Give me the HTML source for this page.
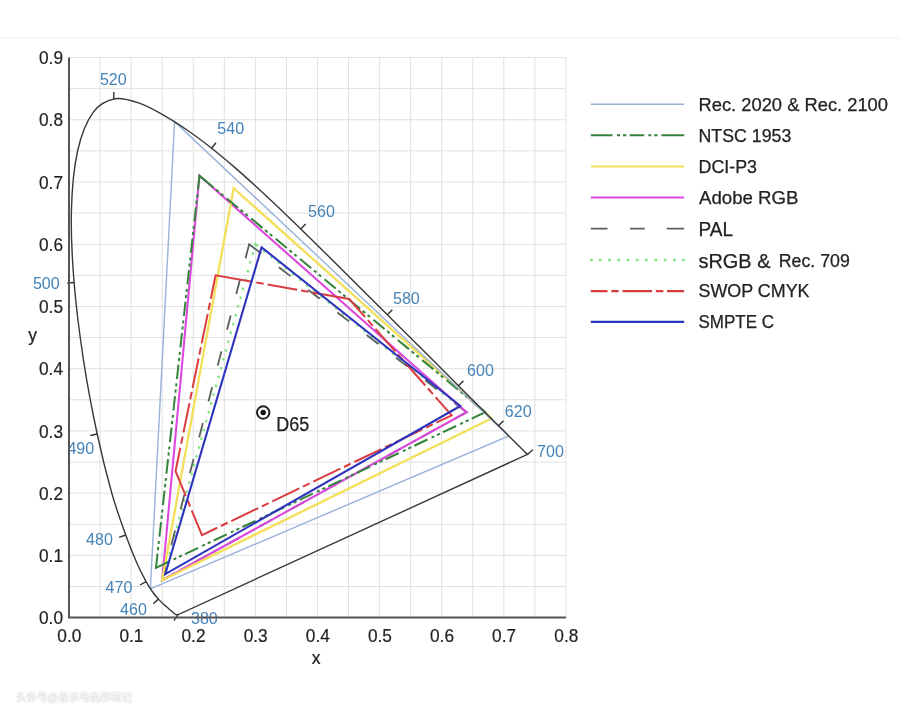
<!DOCTYPE html>
<html lang="en"><head><meta charset="utf-8"><title>CIE 1931 xy gamut comparison</title>
<style>
html,body{margin:0;padding:0;background:#fff;}
body{width:901px;height:720px;overflow:hidden;position:relative;font-family:"Liberation Sans","Noto Sans CJK SC",sans-serif;}
svg{position:absolute;left:0;top:0;display:block;}
svg text{font-family:"Liberation Sans",sans-serif;}
.ax{font-size:18.5px;fill:#222;stroke:#222;stroke-width:0.2px;}
.axl{font-size:17.5px;fill:#222;stroke:#222;stroke-width:0.2px;}
.wl{font-size:16.5px;fill:#4583b8;}
.d65{font-size:19.5px;fill:#222;stroke:#222;stroke-width:0.25px;}
.lg{font-size:18px;fill:#222;stroke:#222;stroke-width:0.25px;}
.lgb{font-size:20.5px;fill:#222;stroke:#222;stroke-width:0.25px;}
.topline{position:absolute;left:0;top:37px;width:901px;height:2px;background:#f7f7f7;}
.wm{position:absolute;left:16px;top:689px;font-size:10.5px;line-height:16px;color:#fff;text-shadow:0 0 2px #bbb,0 0 1px #ccc;white-space:nowrap;letter-spacing:0;}
</style></head><body>
<div class="topline"></div>
<svg width="901" height="720" viewBox="0 0 901 720">
<path d="M69.00 57.53 V617.60 M100.06 57.53 V617.60 M131.12 57.53 V617.60 M162.18 57.53 V617.60 M193.24 57.53 V617.60 M224.30 57.53 V617.60 M255.36 57.53 V617.60 M286.42 57.53 V617.60 M317.48 57.53 V617.60 M348.54 57.53 V617.60 M379.60 57.53 V617.60 M410.66 57.53 V617.60 M441.72 57.53 V617.60 M472.78 57.53 V617.60 M503.84 57.53 V617.60 M534.90 57.53 V617.60 M565.96 57.53 V617.60 M69.00 617.60 H565.96 M69.00 586.49 H565.96 M69.00 555.37 H565.96 M69.00 524.25 H565.96 M69.00 493.14 H565.96 M69.00 462.03 H565.96 M69.00 430.91 H565.96 M69.00 399.80 H565.96 M69.00 368.68 H565.96 M69.00 337.57 H565.96 M69.00 306.45 H565.96 M69.00 275.34 H565.96 M69.00 244.22 H565.96 M69.00 213.11 H565.96 M69.00 181.99 H565.96 M69.00 150.88 H565.96 M69.00 119.76 H565.96 M69.00 88.64 H565.96 M69.00 57.53 H565.96" stroke="#e0e0e0" stroke-width="1" fill="none"/>
<path d="M255.36 244.22 L162.18 580.26 L466.57 412.24 Z" stroke="#84e484" stroke-width="2.3" fill="none" stroke-linejoin="miter" stroke-dasharray="1.76 6.65 2.50 6.65 2.50 6.65 2.50 6.65 2.50 6.65 2.50 6.65 2.50 6.65 2.50 6.65 2.50 6.65 2.50 6.65 2.50 6.65 2.50 6.65 2.50 6.65 2.50 6.65 2.50 6.65 2.50 6.65 2.50 6.65 2.50 6.65 2.50 6.65 2.50 6.65 2.50 6.65 2.50 6.65 2.50 6.65 2.50 6.65 2.50 6.65 2.50 6.65 2.50 6.65 2.50 6.65 2.50 6.65 2.50 6.65 2.50 6.65 2.50 6.65 2.50 6.65 2.50 6.65 2.50 6.65 2.50 6.65 2.50 6.65 2.50 6.65 7.58 6.65 2.50 6.65 2.50 6.65 2.50 6.65 2.50 6.65 2.50 6.65 2.50 6.65 2.50 6.65 2.50 6.65 2.50 6.65 2.50 6.65 2.50 6.65 2.50 6.65 2.50 6.65 2.50 6.65 2.50 6.65 2.50 6.65 2.50 6.65 2.50 6.65 2.50 6.65 2.50 6.65 2.50 6.65 2.50 6.65 2.50 6.65 2.50 6.65 2.50 6.65 2.50 6.65 2.50 6.65 2.50 6.65 2.50 6.65 2.50 6.65 2.50 6.65 2.50 6.65 2.50 6.65 2.50 6.65 2.50 6.65 2.50 6.65 9.34 6.65 2.50 6.65 2.50 6.65 2.50 6.65 2.50 6.65 2.50 6.65 2.50 6.65 2.50 6.65 2.50 6.65 2.50 6.65 2.50 6.65 2.50 6.65 2.50 6.65 2.50 6.65 2.50 6.65 2.50 6.65 2.50 6.65 2.50 6.65 2.50 6.65 2.50 6.65 2.50 6.65 2.50 6.65 2.50 6.65 2.50 6.65 2.50 6.65 2.50 6.65 2.50 6.65 2.50 6.65 2.50 6.65 3.52"/>
<path d="M249.15 244.22 L162.18 580.26 L466.57 412.24 Z" stroke="#58605a" stroke-width="1.8" fill="none" stroke-linejoin="miter" stroke-dasharray="14.41 22.30 14.70 22.30 14.70 22.30 14.70 22.30 14.70 22.30 14.70 22.30 14.70 22.30 14.70 22.30 14.70 22.30 29.10 22.30 14.70 22.30 14.70 22.30 14.70 22.30 14.70 22.30 14.70 22.30 14.70 22.30 14.70 22.30 14.70 22.30 29.93 22.30 14.70 22.30 14.70 22.30 14.70 22.30 14.70 22.30 14.70 22.30 14.70 22.30 15.24"/>
<path d="M466.57 412.24 L199.45 175.77 L162.18 580.26 Z" stroke="#dc48de" stroke-width="2.1" fill="none" stroke-linejoin="miter"/>
<path d="M491.42 418.46 L233.62 188.21 L162.18 580.26 Z" stroke="#f3df58" stroke-width="2.3" fill="none" stroke-linejoin="miter"/>
<path d="M199.45 175.77 L155.97 567.82 L485.20 412.24 Z" stroke="#34843a" stroke-width="2.0" fill="none" stroke-linejoin="miter" stroke-dasharray="14.28 4.50 3.00 3.00 3.30 3.40 14.50 4.50 3.00 3.00 3.30 3.40 14.50 4.50 3.00 3.00 3.30 3.40 14.50 4.50 3.00 3.00 3.30 3.40 14.50 4.50 3.00 3.00 3.30 3.40 14.50 4.50 3.00 3.00 3.30 3.40 14.50 4.50 3.00 3.00 3.30 3.40 14.50 4.50 3.00 3.00 3.30 3.40 14.50 4.50 3.00 3.00 3.30 3.40 14.50 4.50 3.00 3.00 3.30 3.40 14.50 4.50 3.00 3.00 3.30 3.40 14.50 4.50 3.00 3.00 3.30 3.40 29.25 4.50 3.00 3.00 3.30 3.40 14.50 4.50 3.00 3.00 3.30 3.40 14.50 4.50 3.00 3.00 3.30 3.40 14.50 4.50 3.00 3.00 3.30 3.40 14.50 4.50 3.00 3.00 3.30 3.40 14.50 4.50 3.00 3.00 3.30 3.40 14.50 4.50 3.00 3.00 3.30 3.40 14.50 4.50 3.00 3.00 3.30 3.40 14.50 4.50 3.00 3.00 3.30 3.40 14.50 4.50 3.00 3.00 3.30 3.40 14.50 4.50 3.00 3.00 3.30 3.40 33.33 4.50 3.00 3.00 3.30 3.40 14.50 4.50 3.00 3.00 3.30 3.40 14.50 4.50 3.00 3.00 3.30 3.40 14.50 4.50 3.00 3.00 3.30 3.40 14.50 4.50 3.00 3.00 3.30 3.40 14.50 4.50 3.00 3.00 3.30 3.40 14.50 4.50 3.00 3.00 3.30 3.40 14.50 4.50 3.00 3.00 3.30 3.40 14.50 4.50 3.00 3.00 3.30 3.40 14.50 4.50 3.00 3.00 3.30 3.40 14.50 4.50 3.00 3.00 3.30 3.40 18.35"/>
<path d="M508.81 435.89 L174.60 121.63 L150.38 588.97 Z" stroke="#98b2d8" stroke-width="1.4" fill="none" stroke-linejoin="miter"/>
<path d="M215.60 275.34 L175.54 471.17 L201.94 535.08 L451.66 415.35 L349.16 298.98 Z" stroke="#da3c40" stroke-width="2" fill="none" stroke-linejoin="miter" stroke-dasharray="23.95 4.00 7.50 4.00 30.00 4.00 7.50 4.00 30.00 4.00 7.50 4.00 30.00 4.00 7.50 4.00 50.77 4.00 7.50 4.00 43.80 4.00 7.50 4.00 30.00 4.00 7.50 4.00 30.00 4.00 7.50 4.00 30.00 4.00 7.50 4.00 30.00 4.00 7.50 4.00 30.00 4.00 7.50 4.00 41.26 4.00 7.50 4.00 30.00 4.00 7.50 4.00 30.00 4.00 7.50 4.00 61.60 4.00 7.50 4.00 30.00 4.00 7.50 4.00 37.32"/>
<path d="M460.36 406.02 L261.57 247.33 L165.29 574.04 Z" stroke="#2e34be" stroke-width="2.1" fill="none" stroke-linejoin="miter"/>
<path d="M177.80 614.80 C177.68 614.75 177.23 614.53 177.09 614.49 C176.95 614.45 177.01 614.54 176.96 614.55 C176.92 614.56 176.89 614.54 176.84 614.55 C176.79 614.56 176.72 614.60 176.65 614.61 C176.59 614.62 176.54 614.61 176.47 614.61 C176.40 614.61 176.31 614.61 176.22 614.61 C176.13 614.61 176.03 614.64 175.91 614.61 C175.78 614.58 175.66 614.53 175.47 614.43 C175.29 614.32 175.05 614.18 174.79 613.99 C174.53 613.80 174.27 613.60 173.92 613.31 C173.57 613.02 173.14 612.66 172.68 612.25 C172.21 611.83 171.73 611.36 171.13 610.82 C170.52 610.28 169.88 609.72 169.08 609.01 C168.27 608.31 167.33 607.51 166.28 606.59 C165.23 605.66 164.11 604.72 162.80 603.47 C161.50 602.23 160.06 600.90 158.45 599.12 C156.85 597.33 155.23 595.68 153.17 592.77 C151.11 589.86 148.77 586.50 146.09 581.63 C143.41 576.77 140.48 571.35 137.08 563.58 C133.69 555.82 129.95 546.83 125.72 535.02 C121.48 523.21 116.43 509.54 111.68 492.70 C106.92 475.87 101.88 456.01 97.20 434.02 C92.52 412.03 87.45 386.02 83.60 360.78 C79.75 335.53 76.12 307.66 74.09 282.55 C72.06 257.44 70.83 232.09 71.42 210.12 C72.01 188.15 74.01 167.05 77.63 150.75 C81.26 134.45 86.91 120.96 93.16 112.29 C99.42 103.62 107.36 100.20 115.16 98.73 C122.95 97.25 131.62 100.56 139.94 103.46 C148.27 106.35 156.95 111.46 165.10 116.09 C173.25 120.71 181.07 125.86 188.83 131.21 C196.58 136.56 204.08 142.26 211.63 148.20 C219.18 154.14 226.66 160.44 234.11 166.87 C241.57 173.30 248.95 180.00 256.35 186.78 C263.76 193.56 271.13 200.53 278.53 207.57 C285.93 214.60 293.38 221.79 300.77 228.97 C308.16 236.16 315.53 243.45 322.88 250.69 C330.24 257.93 337.62 265.21 344.87 272.41 C352.13 279.61 359.35 286.82 366.43 293.88 C373.51 300.94 380.53 307.96 387.37 314.79 C394.20 321.61 400.94 328.35 407.43 334.83 C413.92 341.30 420.30 347.62 426.31 353.62 C432.33 359.63 438.16 365.50 443.52 370.86 C448.88 376.22 453.80 381.12 458.49 385.79 C463.18 390.47 467.64 394.93 471.66 398.92 C475.68 402.92 479.29 406.46 482.59 409.75 C485.90 413.04 488.82 415.99 491.48 418.65 C494.14 421.32 496.44 423.63 498.56 425.74 C500.68 427.86 502.51 429.66 504.21 431.35 C505.91 433.04 507.36 434.50 508.75 435.89 C510.13 437.28 511.39 438.53 512.54 439.68 C513.69 440.84 514.71 441.87 515.64 442.80 C516.57 443.72 517.40 444.51 518.13 445.22 C518.85 445.94 519.44 446.54 519.99 447.09 C520.54 447.64 521.01 448.11 521.42 448.52 C521.83 448.94 522.19 449.29 522.48 449.58 C522.77 449.87 522.95 450.06 523.16 450.26 C523.37 450.47 523.55 450.66 523.72 450.82 C523.88 450.99 524.01 451.11 524.15 451.26 C524.30 451.40 524.45 451.56 524.59 451.69 C524.72 451.83 524.86 451.96 524.96 452.07 C525.06 452.17 525.15 452.25 525.21 452.32 C525.27 452.38 524.94 452.11 525.33 452.44 C525.73 452.77 527.22 453.99 527.60 454.30 Z" stroke="#383838" stroke-width="1.4" fill="none" stroke-linejoin="miter"/>
<path d="M177.80 614.80 L173.95 620.61 M158.45 599.12 L153.25 603.80 M146.09 581.63 L139.96 585.01 M125.72 535.02 L119.13 537.38 M97.20 434.02 L90.36 435.48 M74.09 282.55 L67.12 283.12 M113.80 99.03 L113.80 92.03 M211.63 148.20 L215.96 142.70 M300.77 228.97 L305.65 223.95 M387.37 314.79 L392.31 309.84 M458.49 385.79 L463.44 380.84 M498.56 425.74 L503.50 420.79 M527.60 454.30 L532.92 449.75" stroke="#333" stroke-width="1.4" fill="none"/>
<text x="99.9" y="84.9" class="wl" textLength="26.8" lengthAdjust="spacingAndGlyphs">520</text>
<text x="217.3" y="134.2" class="wl" textLength="26.8" lengthAdjust="spacingAndGlyphs">540</text>
<text x="308.1" y="216.9" class="wl" textLength="26.8" lengthAdjust="spacingAndGlyphs">560</text>
<text x="393.0" y="304.3" class="wl" textLength="26.8" lengthAdjust="spacingAndGlyphs">580</text>
<text x="467.1" y="376.2" class="wl" textLength="26.8" lengthAdjust="spacingAndGlyphs">600</text>
<text x="504.8" y="417.1" class="wl" textLength="26.8" lengthAdjust="spacingAndGlyphs">620</text>
<text x="537.1" y="456.5" class="wl" textLength="26.8" lengthAdjust="spacingAndGlyphs">700</text>
<text x="32.9" y="289.1" class="wl" textLength="26.8" lengthAdjust="spacingAndGlyphs">500</text>
<text x="67.4" y="454.4" class="wl" textLength="26.8" lengthAdjust="spacingAndGlyphs">490</text>
<text x="86.1" y="545.4" class="wl" textLength="26.8" lengthAdjust="spacingAndGlyphs">480</text>
<text x="105.6" y="592.9" class="wl" textLength="26.8" lengthAdjust="spacingAndGlyphs">470</text>
<text x="120.1" y="614.9" class="wl" textLength="26.8" lengthAdjust="spacingAndGlyphs">460</text>
<text x="191.0" y="623.9" class="wl" textLength="26.8" lengthAdjust="spacingAndGlyphs">380</text>
<path d="M69.00 57.53 V617.60 H565.96" stroke="#555" stroke-width="2" fill="none"/>
<text x="57.3" y="641.8" class="ax" textLength="24" lengthAdjust="spacingAndGlyphs">0.0</text>
<text x="119.4" y="641.8" class="ax" textLength="24" lengthAdjust="spacingAndGlyphs">0.1</text>
<text x="181.5" y="641.8" class="ax" textLength="24" lengthAdjust="spacingAndGlyphs">0.2</text>
<text x="243.7" y="641.8" class="ax" textLength="24" lengthAdjust="spacingAndGlyphs">0.3</text>
<text x="305.8" y="641.8" class="ax" textLength="24" lengthAdjust="spacingAndGlyphs">0.4</text>
<text x="367.9" y="641.8" class="ax" textLength="24" lengthAdjust="spacingAndGlyphs">0.5</text>
<text x="430.0" y="641.8" class="ax" textLength="24" lengthAdjust="spacingAndGlyphs">0.6</text>
<text x="492.1" y="641.8" class="ax" textLength="24" lengthAdjust="spacingAndGlyphs">0.7</text>
<text x="554.3" y="641.8" class="ax" textLength="24" lengthAdjust="spacingAndGlyphs">0.8</text>
<text x="39" y="624.2" class="ax" textLength="24" lengthAdjust="spacingAndGlyphs">0.0</text>
<text x="39" y="562.0" class="ax" textLength="24" lengthAdjust="spacingAndGlyphs">0.1</text>
<text x="39" y="499.7" class="ax" textLength="24" lengthAdjust="spacingAndGlyphs">0.2</text>
<text x="39" y="437.5" class="ax" textLength="24" lengthAdjust="spacingAndGlyphs">0.3</text>
<text x="39" y="375.3" class="ax" textLength="24" lengthAdjust="spacingAndGlyphs">0.4</text>
<text x="39" y="313.1" class="ax" textLength="24" lengthAdjust="spacingAndGlyphs">0.5</text>
<text x="39" y="250.8" class="ax" textLength="24" lengthAdjust="spacingAndGlyphs">0.6</text>
<text x="39" y="188.6" class="ax" textLength="24" lengthAdjust="spacingAndGlyphs">0.7</text>
<text x="39" y="126.4" class="ax" textLength="24" lengthAdjust="spacingAndGlyphs">0.8</text>
<text x="39" y="64.1" class="ax" textLength="24" lengthAdjust="spacingAndGlyphs">0.9</text>
<text x="316" y="664.3" class="axl" text-anchor="middle">x</text>
<text x="32.5" y="340.5" class="axl" text-anchor="middle">y</text>
<circle cx="263.2" cy="412.5" r="6.2" stroke="#222" stroke-width="2" fill="#fff"/>
<circle cx="263.2" cy="412.5" r="2.7" fill="#111"/>
<text x="276.3" y="430.6" class="d65" textLength="33" lengthAdjust="spacingAndGlyphs">D65</text>
<path d="M590.8 104.2 H684.2" stroke="#98b2d8" stroke-width="1.4"/>
<path d="M590.83 135.30 H612.50 M617.00 135.30 H620.00 M623.00 135.30 H626.33 M629.67 135.30 H644.17 M648.33 135.30 H651.33 M654.17 135.30 H657.50 M661.33 135.30 H684.17" stroke="#34843a" stroke-width="2"/>
<path d="M590.8 166.4 H684.2" stroke="#f3df58" stroke-width="2"/>
<path d="M590.8 197.4 H684.2" stroke="#dc48de" stroke-width="2"/>
<path d="M590.83 228.70 H607.50 M630.00 228.70 H644.67 M666.67 228.70 H684.17" stroke="#58605a" stroke-width="1.8"/>
<path d="M590.00 260.00 H592.67 M598.67 260.00 H601.33 M608.17 260.00 H610.83 M617.33 260.00 H620.00 M626.67 260.00 H629.33 M635.83 260.00 H638.50 M645.00 260.00 H647.67 M654.50 260.00 H657.17 M663.83 260.00 H666.50 M673.17 260.00 H675.83 M682.00 260.00 H684.67" stroke="#84e484" stroke-width="2.4"/>
<path d="M590.83 291.20 H607.50 M611.33 291.20 H618.67 M622.50 291.20 H652.00 M655.83 291.20 H663.33 M667.00 291.20 H684.17" stroke="#da3c40" stroke-width="2.2"/>
<path d="M590.8 321.8 H684.2" stroke="#2e34be" stroke-width="2.2"/>
<text x="698.5" y="110.7" class="lg" textLength="189.5" lengthAdjust="spacingAndGlyphs">Rec. 2020 &amp; Rec. 2100</text>
<text x="698.5" y="141.8" class="lg" textLength="92.8" lengthAdjust="spacingAndGlyphs">NTSC 1953</text>
<text x="698.5" y="172.8" class="lg" textLength="58.5" lengthAdjust="spacingAndGlyphs">DCI-P3</text>
<text x="699.0" y="203.8" class="lg" textLength="99.5" lengthAdjust="spacingAndGlyphs">Adobe RGB</text>
<text x="698.5" y="236.0" class="lgb" textLength="34.6" lengthAdjust="spacingAndGlyphs">PAL</text>
<text x="698.5" y="267.5" class="lgb" textLength="72.0" lengthAdjust="spacingAndGlyphs">sRGB &amp;</text>
<text x="778.8" y="267.0" class="lg" textLength="71.0" lengthAdjust="spacingAndGlyphs">Rec. 709</text>
<text x="698.5" y="297.4" class="lg" textLength="111.0" lengthAdjust="spacingAndGlyphs">SWOP CMYK</text>
<text x="698.5" y="328.4" class="lg" textLength="75.6" lengthAdjust="spacingAndGlyphs">SMPTE C</text>
</svg>
<div class="wm">头条号@显示与色彩笔记</div>
</body></html>
